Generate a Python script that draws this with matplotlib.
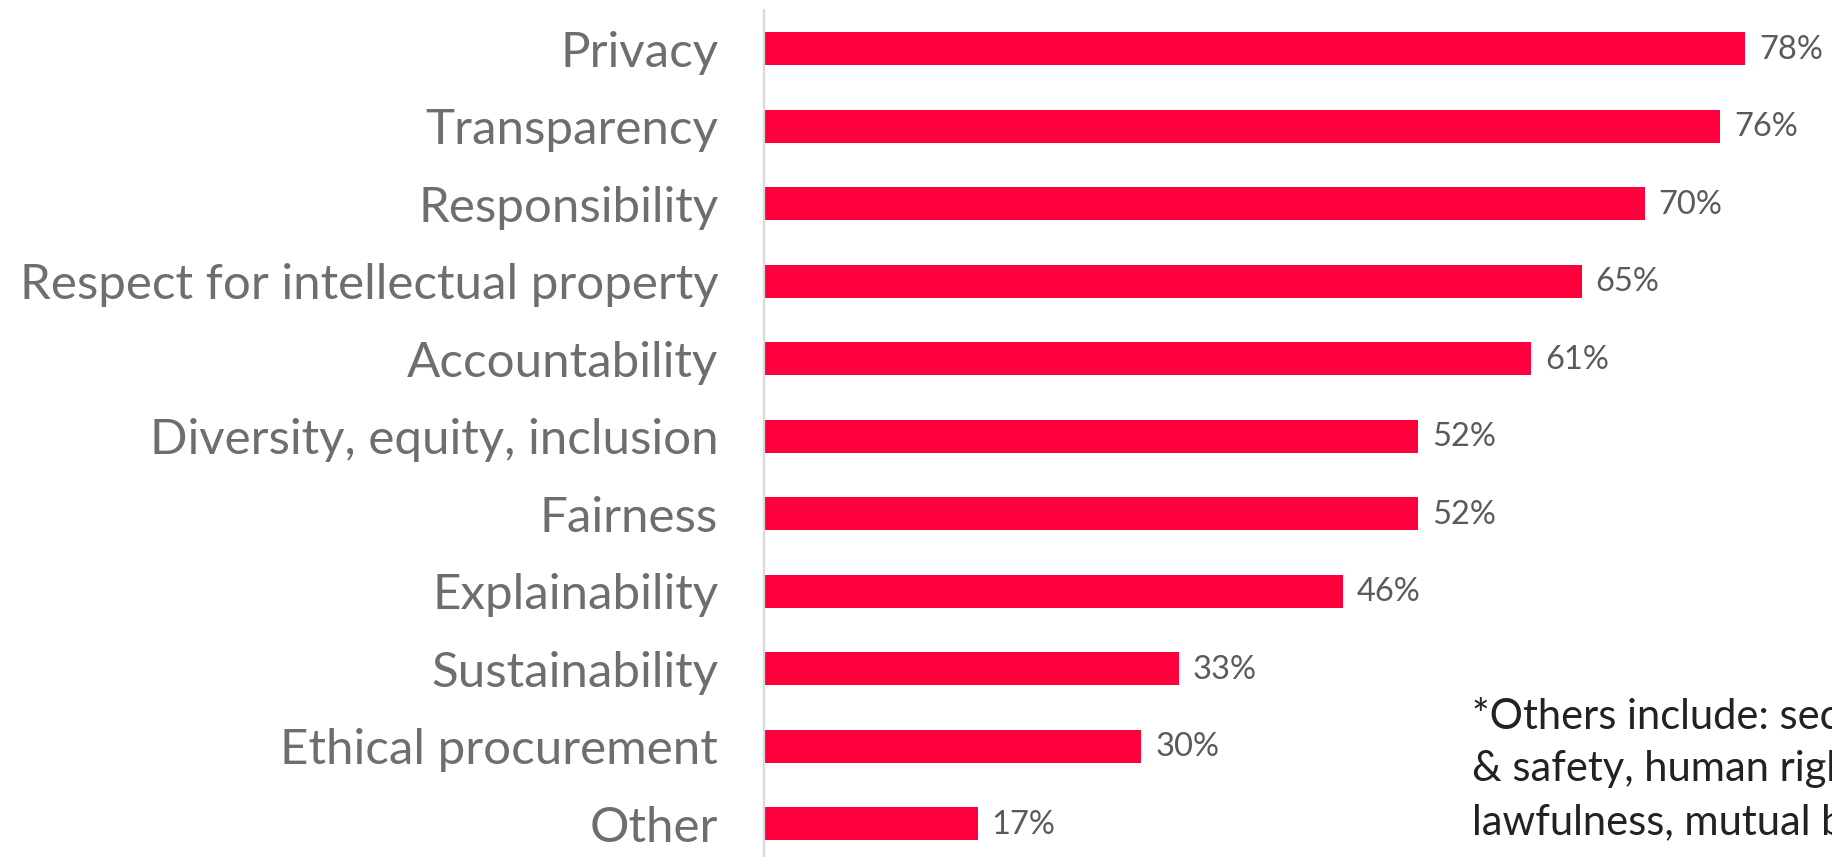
import matplotlib.pyplot as plt
import numpy as np

# share of respondents naming each principle
categories = ['Privacy', 'Transparency', 'Responsibility', 'Respect for intellectual property',
              'Accountability', 'Diversity, equity, inclusion', 'Fairness', 'Explainability',
              'Sustainability', 'Ethical procurement', 'Other']
values = [78, 76, 70, 65, 61, 52, 52, 46, 33, 30, 17]
note_lines = ['*Others include: security', '& safety, human rights,', 'lawfulness, mutual benefit']

BAR_RED = '#ff003c'
LABEL_GREY = '#6e6e6e'
VALUE_GREY = '#5a5a5a'

plt.rcParams['font.family'] = ['Lato', 'DejaVu Sans']

W, H = 1832, 857
fig = plt.figure(figsize=(W / 100, H / 100), dpi=100)
ax = fig.add_axes([764 / W, 0, (W - 764) / W, (H - 10) / H])

y = np.arange(len(categories))
ax.barh(y, values, height=0.426, color=BAR_RED)

for yi, v in zip(y, values):
    ax.annotate(f'{v}%', (v, yi), xytext=(10, -1), textcoords='offset points',
                va='center', ha='left', fontsize=23.5, color=VALUE_GREY)

ax.set_xlim(0, (W - 764) / 12.58)
ax.set_ylim(10.432, -0.497)
ax.set_yticks(y)
ax.set_yticklabels(categories, fontsize=35.5, color=LABEL_GREY)
ax.tick_params(axis='y', length=0, pad=33)
ax.set_xticks([])

for side in ['top', 'right', 'bottom']:
    ax.spines[side].set_visible(False)
ax.spines['left'].set_color('#d9d9d9')
ax.spines['left'].set_linewidth(1.6)

# footnote running off the right edge
for i, line in enumerate(note_lines):
    fig.text(1472 / W, 1 - (729 + 52.5 * i) / H, line, fontsize=30, color='#222222',
             ha='left', va='baseline')

fig.savefig('out.png', dpi=100)
